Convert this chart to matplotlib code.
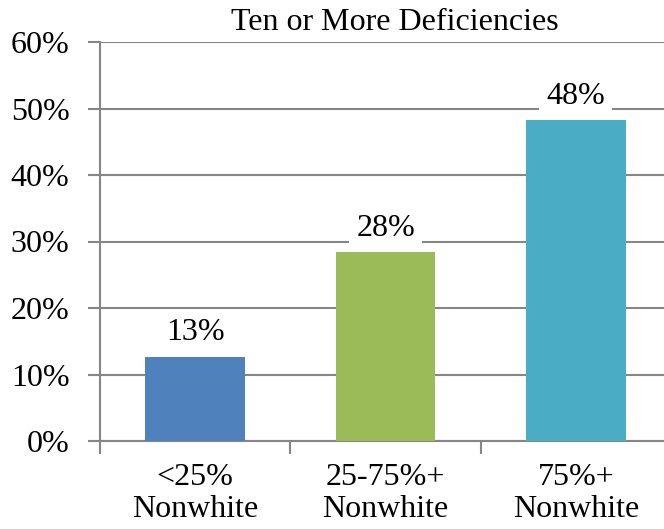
import numpy as np
import matplotlib.pyplot as plt

plt.rcParams['font.family'] = ['Liberation Serif', 'DejaVu Serif']

categories = ['<25%\nNonwhite', '25-75%+\nNonwhite', '75%+\nNonwhite']
values = [12.7, 28.4, 48.2]
labels = ['13%', '28%', '48%']
colors = ['#4F81BD', '#9BBB59', '#4BACC6']

W, H = 664, 529
fs = 23
fig = plt.figure(figsize=(W / 100, H / 100), dpi=100)
# plot area in pixels: left 100, right 671 (runs past the image), top 42, bottom 441
ax = fig.add_axes([100 / W, 1 - 441 / H, 571 / W, 399 / H])

x = np.arange(len(categories))
ax.bar(x, values, width=0.525, color=colors, zorder=3)

ax.set_xlim(-0.5, len(categories) - 0.5)
ax.set_ylim(0, 60)
ax.set_yticks(np.arange(0, 61, 10))
ax.set_yticklabels([f'{v}%' for v in range(0, 61, 10)], fontsize=fs)
ax.yaxis.grid(True, color='#868686', linewidth=1.5, zorder=0)

ax.set_xticks(np.arange(-0.5, len(categories), 1.0))
ax.set_xticklabels([])
ax.set_xticks(x, minor=True)
ax.set_xticklabels(categories, minor=True, fontsize=fs, linespacing=1.12)
ax.tick_params(axis='x', which='minor', length=0, pad=16)
ax.tick_params(axis='x', which='major', length=9, width=1.5, color='#868686')
ax.tick_params(axis='y', length=9, width=1.5, color='#868686', pad=13)

for s in ['top', 'right']:
    ax.spines[s].set_visible(False)
for s in ['left', 'bottom']:
    ax.spines[s].set_color('#868686')
    ax.spines[s].set_linewidth(1.5)

for xi, v, lab in zip(x, values, labels):
    ax.text(xi, v + 3.6, lab, ha='center', va='center', fontsize=fs, zorder=4,
            bbox=dict(facecolor='white', edgecolor='none', pad=5))

fig.text(395 / W, 1 - 22 / H, 'Ten or More Deficiencies', ha='center', va='center',
         fontsize=fs)

fig.savefig('out.png', dpi=100)
